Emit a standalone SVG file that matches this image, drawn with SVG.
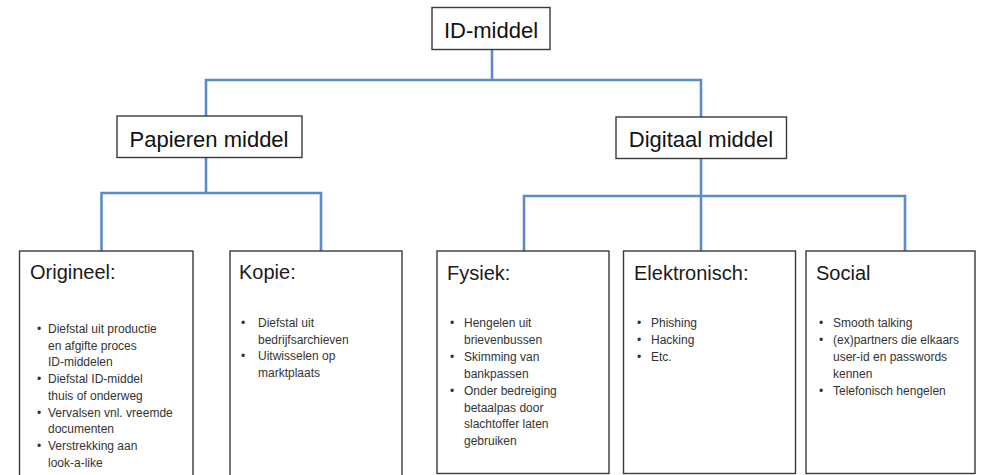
<svg xmlns="http://www.w3.org/2000/svg" width="981" height="475" viewBox="0 0 981 475">
<style>
  .box { fill: #ffffff; stroke: #3a3a3a; stroke-width: 1.4; }
  .conn { fill: none; stroke: #5b8cc8; stroke-width: 2.6; stroke-linecap: square; }
  .title { font-family: "Liberation Sans", Arial, sans-serif; font-size: 22px; fill: #111; }
  .head { font-family: "Liberation Sans", Arial, sans-serif; font-size: 20px; fill: #1a1a1a; }
  .item { font-family: "Liberation Sans", Arial, sans-serif; font-size: 12px; fill: #333; }
</style>
<rect width="981" height="475" fill="#ffffff"/>
<g id="connectors">
  <path class="conn" d="M492,49 V80 M206,80 H701 M206,80 V116 M701,80 V117"/>
  <path class="conn" d="M206,157 V193 M101.5,193 H321 M101.5,193 V251 M321,193 V251"/>
  <path class="conn" d="M701,158 V251 M524,196 H905 M524,196 V251 M905,196 V251"/>
</g>
<g id="id-middel">
  <rect class="box" x="432" y="7.5" width="118" height="42"/>
  <text class="title" x="491" y="38" text-anchor="middle">ID-middel</text>
</g>
<g id="papieren-middel">
  <rect class="box" x="117" y="116" width="185" height="41.5"/>
  <text class="title" x="209" y="147" text-anchor="middle">Papieren middel</text>
</g>
<g id="digitaal-middel">
  <rect class="box" x="616" y="117" width="170.5" height="41.5"/>
  <text class="title" x="701" y="147" text-anchor="middle">Digitaal middel</text>
</g>
<g id="origineel">
  <rect class="box" x="19.5" y="251" width="173.5" height="230"/>
  <text class="head" x="30" y="279">Origineel:</text>
  <g class="item">
    <text x="37" y="333">•</text><text x="48" y="333">Diefstal uit productie</text>
    <text x="48" y="349.7">en afgifte proces</text>
    <text x="48" y="366.4">ID-middelen</text>
    <text x="37" y="383.1">•</text><text x="48" y="383.1">Diefstal ID-middel</text>
    <text x="48" y="399.8">thuis of onderweg</text>
    <text x="37" y="416.5">•</text><text x="48" y="416.5">Vervalsen vnl. vreemde</text>
    <text x="48" y="433.2">documenten</text>
    <text x="37" y="449.9">•</text><text x="48" y="449.9">Verstrekking aan</text>
    <text x="48" y="466.6">look-a-like</text>
  </g>
</g>
<g id="kopie">
  <rect class="box" x="230" y="251" width="172" height="230"/>
  <text class="head" x="239" y="279">Kopie:</text>
  <g class="item">
    <text x="241" y="327">•</text><text x="258" y="327">Diefstal uit</text>
    <text x="258" y="343.7">bedrijfsarchieven</text>
    <text x="241" y="360.4">•</text><text x="258" y="360.4">Uitwisselen op</text>
    <text x="258" y="377.1">marktplaats</text>
  </g>
</g>
<g id="fysiek">
  <rect class="box" x="437" y="251" width="172" height="222.5"/>
  <text class="head" x="447" y="280">Fysiek:</text>
  <g class="item">
    <text x="450" y="327">•</text><text x="464" y="327">Hengelen uit</text>
    <text x="464" y="343.9">brievenbussen</text>
    <text x="450" y="360.8">•</text><text x="464" y="360.8">Skimming van</text>
    <text x="464" y="377.7">bankpassen</text>
    <text x="450" y="394.6">•</text><text x="464" y="394.6">Onder bedreiging</text>
    <text x="464" y="411.5">betaalpas door</text>
    <text x="464" y="428.4">slachtoffer laten</text>
    <text x="464" y="445.3">gebruiken</text>
  </g>
</g>
<g id="elektronisch">
  <rect class="box" x="623.5" y="251" width="172" height="222.5"/>
  <text class="head" x="634" y="280">Elektronisch:</text>
  <g class="item">
    <text x="637" y="327">•</text><text x="651" y="327">Phishing</text>
    <text x="637" y="343.9">•</text><text x="651" y="343.9">Hacking</text>
    <text x="637" y="360.8">•</text><text x="651" y="360.8">Etc.</text>
  </g>
</g>
<g id="social">
  <rect class="box" x="806" y="251" width="169" height="222.5"/>
  <text class="head" x="816" y="280">Social</text>
  <g class="item">
    <text x="819" y="327">•</text><text x="833" y="327">Smooth talking</text>
    <text x="819" y="343.9">•</text><text x="833" y="343.9">(ex)partners die elkaars</text>
    <text x="833" y="360.8">user-id en passwords</text>
    <text x="833" y="377.7">kennen</text>
    <text x="819" y="394.6">•</text><text x="833" y="394.6">Telefonisch hengelen</text>
  </g>
</g>
</svg>
